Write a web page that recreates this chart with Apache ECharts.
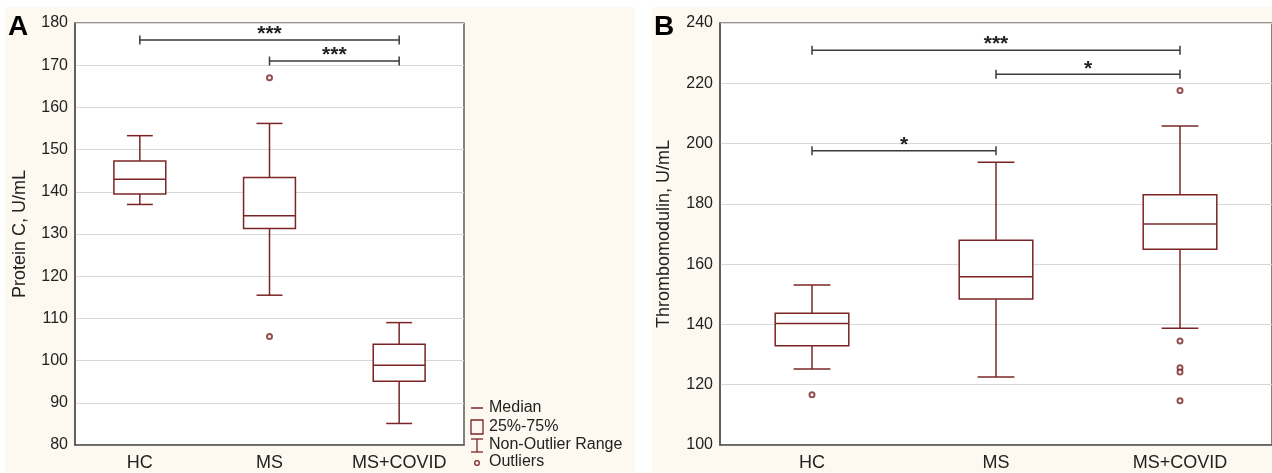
<!DOCTYPE html>
<html>
<head>
<meta charset="utf-8">
<script src="https://cdn.jsdelivr.net/npm/echarts@6/dist/echarts.min.js"></script>
<style>
  html, body { margin: 0; padding: 0; background: #fff; }
  #chart { width: 1272px; height: 473px; }
</style>
</head>
<body>
<div id="chart"></div>
<script>
var categories = ['HC', 'MS', 'MS+COVID'];

// [low whisker, Q1, median, Q3, high whisker]
var proteinBoxes = [
    [137, 139.5, 143, 147.3, 153.3],
    [115.5, 131.3, 134.3, 143.4, 156.2],
    [85.1, 95.1, 98.9, 103.9, 109]
];
var proteinOutliers = [[1, 167], [1, 105.7]];
// [from, to, y, label]
var proteinSig = [[0, 2, 176, '***'], [1, 2, 171, '***']];

var thromboBoxes = [
    [125.2, 132.9, 140.3, 143.7, 153.1],
    [122.6, 148.4, 155.8, 167.9, 193.8],
    [138.7, 164.9, 173.3, 183, 205.8]
];
var thromboOutliers = [[0, 116.7], [2, 217.6], [2, 134.5], [2, 125.6], [2, 124.2], [2, 114.7]];
var thromboSig = [[0, 2, 231, '***'], [1, 2, 223, '*'], [0, 1, 197.6, '*']];

var boxColor = '#7b2426';
var textColor = '#222';
var font = 'Liberation Sans, Arial, sans-serif';

function renderBox(params, api) {
    var x = api.value(0);
    var band = api.size([1, 0])[0];
    var bw = band * 0.4, cw = band * 0.2;
    var lo = api.coord([x, api.value(1)]);
    var q1 = api.coord([x, api.value(2)]);
    var md = api.coord([x, api.value(3)]);
    var q3 = api.coord([x, api.value(4)]);
    var hi = api.coord([x, api.value(5)]);
    var cx = lo[0];
    var st = { stroke: boxColor, lineWidth: 1.5, fill: null };
    return {
        type: 'group',
        children: [
            { type: 'line', shape: { x1: cx, y1: hi[1], x2: cx, y2: q3[1] }, style: st },
            { type: 'line', shape: { x1: cx, y1: q1[1], x2: cx, y2: lo[1] }, style: st },
            { type: 'line', shape: { x1: cx - cw / 2, y1: hi[1], x2: cx + cw / 2, y2: hi[1] }, style: st },
            { type: 'line', shape: { x1: cx - cw / 2, y1: lo[1], x2: cx + cw / 2, y2: lo[1] }, style: st },
            { type: 'rect', shape: { x: cx - bw / 2, y: q3[1], width: bw, height: q1[1] - q3[1] }, style: { stroke: boxColor, lineWidth: 1.5, fill: '#fff' } },
            { type: 'line', shape: { x1: cx - bw / 2, y1: md[1], x2: cx + bw / 2, y2: md[1] }, style: st }
        ]
    };
}

function renderSig(params, api, labels) {
    var a = api.coord([api.value(0), api.value(2)]);
    var b = api.coord([api.value(1), api.value(2)]);
    var label = labels[params.dataIndex];
    var st = { stroke: '#3a3a3a', lineWidth: 1.5 };
    return {
        type: 'group',
        children: [
            { type: 'line', shape: { x1: a[0], y1: a[1], x2: b[0], y2: b[1] }, style: st },
            { type: 'line', shape: { x1: a[0], y1: a[1] - 4.5, x2: a[0], y2: a[1] + 4.5 }, style: st },
            { type: 'line', shape: { x1: b[0], y1: b[1] - 4.5, x2: b[0], y2: b[1] + 4.5 }, style: st },
            { type: 'text', style: { x: (a[0] + b[0]) / 2, y: a[1] + 5, text: label, fill: '#222', font: 'bold 21px ' + font, align: 'center', verticalAlign: 'bottom' } }
        ]
    };
}

function boxSeries(boxes, idx) {
    return {
        type: 'custom',
        xAxisIndex: idx,
        yAxisIndex: idx,
        renderItem: renderBox,
        encode: { x: 0, y: [1, 2, 3, 4, 5] },
        data: boxes.map(function (b, i) { return [i].concat(b); }),
        z: 3
    };
}

function sigSeries(sig, idx) {
    var labels = sig.map(function (s) { return s[3]; });
    return {
        type: 'custom',
        xAxisIndex: idx,
        yAxisIndex: idx,
        renderItem: function (params, api) {
            return renderSig(params, api, labels);
        },
        encode: { x: [0, 1], y: 2 },
        data: sig.map(function (s) { return [s[0], s[1], s[2]]; }),
        z: 4
    };
}

function outlierSeries(pts, idx) {
    return {
        type: 'scatter',
        xAxisIndex: idx,
        yAxisIndex: idx,
        symbol: 'emptyCircle',
        symbolSize: 5,
        itemStyle: { color: boxColor, borderColor: boxColor, borderWidth: 1.5 },
        data: pts,
        z: 5
    };
}

function xAxisOf(idx, top) {
    return {
        type: 'category',
        gridIndex: idx,
        position: top ? 'top' : 'bottom',
        data: categories,
        boundaryGap: true,
        axisLine: { show: !top, lineStyle: { color: '#555', width: 1.5 } },
        axisTick: { inside: true, alignWithLabel: true, length: 4, lineStyle: { color: '#333' } },
        axisLabel: { show: !top, color: textColor, fontSize: 18, fontFamily: font, margin: 9 },
        splitLine: { show: false }
    };
}

function yAxisOf(idx, min, max, step, name, gap) {
    return {
        type: 'value',
        gridIndex: idx,
        min: min,
        max: max,
        interval: step,
        name: name,
        nameLocation: 'middle',
        nameGap: gap,
        nameTextStyle: { color: textColor, fontSize: 18, fontFamily: font },
        axisLine: { show: true, lineStyle: { color: '#555', width: 1.5 } },
        axisTick: { show: false },
        axisLabel: { color: textColor, fontSize: 16, fontFamily: font, margin: 7 },
        splitLine: { lineStyle: { color: '#d8d8d8', width: 1 } }
    };
}

var chart = echarts.init(document.getElementById('chart'), null, { renderer: 'canvas' });

var legendX = 471;
var legendFont = '16px ' + font;
var option = {
    animation: false,
    backgroundColor: '#fff',
    grid: [
        { left: 75, top: 23, width: 389, height: 422, show: true, backgroundColor: '#fff', borderColor: '#333', borderWidth: 1.2 },
        { left: 720, top: 23, width: 556, height: 422, show: true, backgroundColor: '#fff', borderColor: '#333', borderWidth: 1.2 }
    ],
    xAxis: [xAxisOf(0), xAxisOf(1), xAxisOf(0, true), xAxisOf(1, true)],
    yAxis: [
        yAxisOf(0, 80, 180, 10, 'Protein C, U/mL', 46),
        yAxisOf(1, 100, 240, 20, 'Thrombomodulin, U/mL', 47)
    ],
    graphic: [
        { type: 'rect', z: -10, shape: { x: 5, y: 7, width: 630, height: 465 }, style: { fill: '#fdf9f0' } },
        { type: 'rect', z: -10, shape: { x: 652, y: 7, width: 620, height: 465 }, style: { fill: '#fdf9f0' } },
        { type: 'text', z: 10, left: 8, top: 13, style: { text: 'A', font: 'bold 28px ' + font, fill: '#000' } },
        { type: 'text', z: 10, left: 654, top: 13, style: { text: 'B', font: 'bold 28px ' + font, fill: '#000' } },
        // legend
        { type: 'line', z: 10, shape: { x1: legendX, y1: 408, x2: legendX + 12, y2: 408 }, style: { stroke: boxColor, lineWidth: 1.5 } },
        { type: 'rect', z: 10, shape: { x: legendX, y: 420, width: 12, height: 14 }, style: { stroke: boxColor, lineWidth: 1.3, fill: 'none' } },
        { type: 'line', z: 10, shape: { x1: legendX + 6, y1: 439, x2: legendX + 6, y2: 452 }, style: { stroke: boxColor, lineWidth: 1.3 } },
        { type: 'line', z: 10, shape: { x1: legendX, y1: 439, x2: legendX + 12, y2: 439 }, style: { stroke: boxColor, lineWidth: 1.3 } },
        { type: 'line', z: 10, shape: { x1: legendX, y1: 452, x2: legendX + 12, y2: 452 }, style: { stroke: boxColor, lineWidth: 1.3 } },
        { type: 'circle', z: 10, shape: { cx: legendX + 6, cy: 463, r: 2.3 }, style: { stroke: boxColor, lineWidth: 1.3, fill: 'none' } },
        { type: 'text', z: 10, left: legendX + 18, top: 400, style: { text: 'Median', font: legendFont, fill: textColor } },
        { type: 'text', z: 10, left: legendX + 18, top: 419, style: { text: '25%-75%', font: legendFont, fill: textColor } },
        { type: 'text', z: 10, left: legendX + 18, top: 437, style: { text: 'Non-Outlier Range', font: legendFont, fill: textColor } },
        { type: 'text', z: 10, left: legendX + 18, top: 454, style: { text: 'Outliers', font: legendFont, fill: textColor } }
    ],
    series: [
        boxSeries(proteinBoxes, 0),
        outlierSeries(proteinOutliers, 0),
        sigSeries(proteinSig, 0),
        boxSeries(thromboBoxes, 1),
        outlierSeries(thromboOutliers, 1),
        sigSeries(thromboSig, 1)
    ]
};

chart.setOption(option);
</script>
</body>
</html>
